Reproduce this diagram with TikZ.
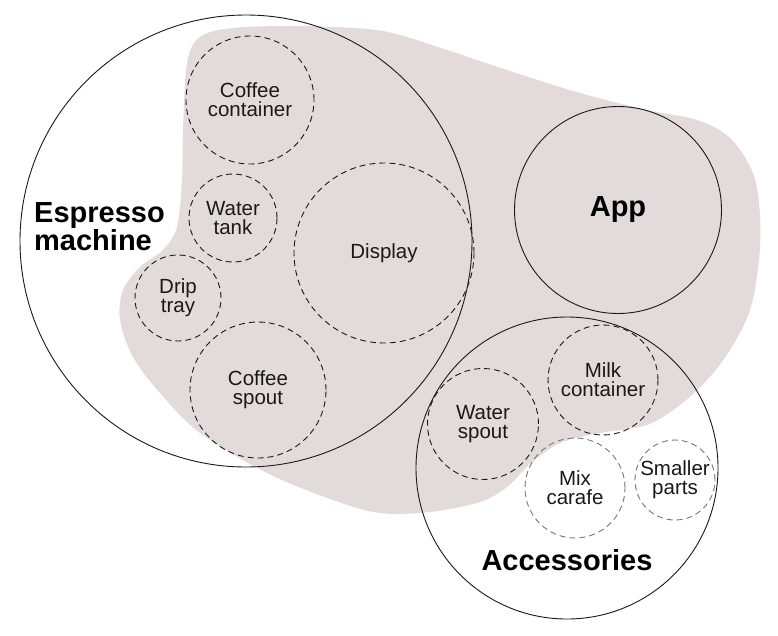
\documentclass[tikz,border=0pt]{standalone}
\usepackage{fontspec}
\setmainfont{Liberation Sans}
\definecolor{blob}{RGB}{226,219,217}
\definecolor{ink}{RGB}{25,25,25}
\tikzset{
  solidring/.style={circle, draw=ink, line width=0.9pt, inner sep=0pt},
  dashring/.style={circle, draw=ink, line width=0.9pt, dash pattern=on 6pt off 4pt, inner sep=0pt, align=center, text=ink, font=\fontsize{20.5}{19}\selectfont},
  lightring/.style={dashring, draw=ink!60},
  biglabel/.style={text=black, font=\fontsize{29}{28}\selectfont\bfseries, inner sep=0pt},
}
\begin{document}
\begin{tikzpicture}[x=1pt, y=-1pt]
\useasboundingbox (0,0) rectangle (778,635);
% beige blob
\fill[blob] plot[smooth cycle, tension=0.55] coordinates {
 (183,130) (187,63) (200,37) (233,28) (300,26) (367,29) (400,35) (447,50)
 (513,72) (580,93) (647,110) (697,120) (730,138) (753,173) (760,215)
 (759,260) (750,310) (730,350) (707,380) (680,405) (647,425) (600,433)
 (560,443) (530,464) (507,487) (480,502) (430,512) (380,513) (333,500)
 (267,473) (200,433) (160,393) (133,357) (120,320) (123,290) (140,267)
 (163,250) (177,227) (182,180)};
% main circles
\node[solidring, minimum size=452pt] (esp) at (246,241) {};
\node[solidring, minimum size=207pt] (app) at (618,210) {};
\node[solidring, minimum size=302pt] (acc) at (567,468) {};
% labels of main circles
\node[biglabel, anchor=west, align=left] (esplabel) at (34,227) {Espresso\\machine};
\node[biglabel] (applabel) at (app.center) {App};
\node[biglabel] (acclabel) at (567,560) {Accessories};
% parts
\node[dashring, minimum size=128pt] (coffeecont) at (250,100) {Coffee\\container};
\node[dashring, minimum size=88pt] (watertank) at (233,218) {Water\\tank};
\node[dashring, minimum size=86pt] (driptray) at (178,298) {Drip\\tray};
\node[dashring, minimum size=180pt] (display) at (384,253) {Display};
\node[dashring, minimum size=136pt] (coffeespout) at (258,390) {Coffee\\spout};
\node[dashring, minimum size=111pt] (waterspout) at (483,424) {Water\\spout};
\node[dashring, minimum size=110pt] (milk) at (603,380) {Milk\\container};
\node[lightring, minimum size=100pt] (mix) at (575,488) {Mix\\carafe};
\node[lightring, minimum size=80pt] (smaller) at (675,480) {Smaller\\parts};
\end{tikzpicture}
\end{document}
